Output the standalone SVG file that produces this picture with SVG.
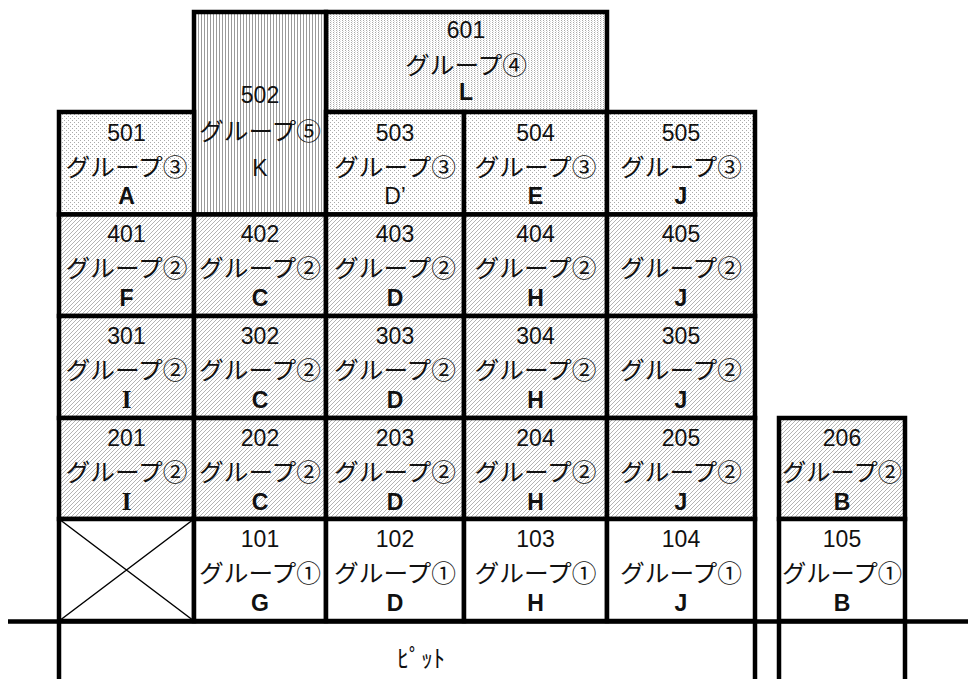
<svg xmlns="http://www.w3.org/2000/svg" width="968" height="679" viewBox="0 0 968 679">
<defs>
<pattern id="pDot" patternUnits="userSpaceOnUse" width="4" height="4">
<rect width="4" height="4" fill="#fff"/>
<rect x="0" y="0" width="1" height="1" fill="#aaa"/>
<rect x="2" y="2" width="1" height="1" fill="#aaa"/>
</pattern>
<pattern id="pVdot" patternUnits="userSpaceOnUse" width="3" height="2">
<rect width="3" height="2" fill="#fff"/>
<rect x="0" y="0" width="1" height="1" fill="#aaa"/>
<rect x="1" y="1" width="1" height="1" fill="#ddd"/>
</pattern>
<pattern id="pV" patternUnits="userSpaceOnUse" width="3" height="3">
<rect width="3" height="3" fill="#fff"/>
<rect x="0" y="0" width="1" height="3" fill="#9a9a9a"/>
</pattern>
<pattern id="pDiag" patternUnits="userSpaceOnUse" width="4" height="4">
<rect width="4" height="4" fill="#fff"/>
<path d="M-1,1 L1,-1 M0,4 L4,0 M3,5 L5,3" stroke="#b4b4b4" stroke-width="1"/>
</pattern>
</defs>
<style>
.c{stroke:#000;stroke-width:4.5}
.g3{fill:url(#pDot)}
.g4{fill:url(#pVdot)}
.g5{fill:url(#pV)}
.g2{fill:url(#pDiag)}
.g1{fill:#fff}
text{font-family:"Liberation Sans","Noto Sans CJK JP",sans-serif;font-size:23px;fill:#111;text-anchor:middle}
.k{font-family:"Noto Sans CJK JP","Liberation Sans",sans-serif;font-size:24px}
.b{font-weight:bold}
.s{font-family:"Liberation Serif",serif;font-weight:bold;font-size:25px}
.ln{stroke:#000;stroke-width:4.5;fill:none}
.thin{stroke:#000;stroke-width:1.5;fill:none}
</style>
<rect width="968" height="679" fill="#fff"/>

<g id="n601"><rect class="c g4" x="326" y="12" width="281" height="100"/>
<text x="466" y="38">601</text><text class="k" x="466" y="74" textLength="122" lengthAdjust="spacingAndGlyphs">グループ④</text><text class="b" x="466" y="100">L</text></g>

<g id="n502"><rect class="c g5" x="194" y="12" width="132" height="202.5"/>
<text x="260" y="103">502</text><text class="k" x="260" y="140" textLength="122" lengthAdjust="spacingAndGlyphs">グループ⑤</text><text x="260" y="176">K</text></g>

<g id="n501"><rect class="c g3" x="59" y="112" width="135" height="102.5"/>
<text x="126.5" y="141">501</text><text class="k" x="126.5" y="176" textLength="122" lengthAdjust="spacingAndGlyphs">グループ③</text><text class="b" x="126.5" y="204">A</text></g>
<g id="n503"><rect class="c g3" x="326" y="112" width="138" height="102.5"/>
<text x="395" y="141">503</text><text class="k" x="395" y="176" textLength="122" lengthAdjust="spacingAndGlyphs">グループ③</text><text x="395" y="204">D’</text></g>
<g id="n504"><rect class="c g3" x="464" y="112" width="143" height="102.5"/>
<text x="535.5" y="141">504</text><text class="k" x="535.5" y="176" textLength="122" lengthAdjust="spacingAndGlyphs">グループ③</text><text class="b" x="535.5" y="204">E</text></g>
<g id="n505"><rect class="c g3" x="607" y="112" width="148" height="102.5"/>
<text x="681" y="141">505</text><text class="k" x="681" y="176" textLength="122" lengthAdjust="spacingAndGlyphs">グループ③</text><text class="b" x="681" y="204">J</text></g>

<g id="n401"><rect class="c g2" x="59" y="214.5" width="135" height="101.5"/>
<text x="126.5" y="242">401</text><text class="k" x="126.5" y="277" textLength="122" lengthAdjust="spacingAndGlyphs">グループ②</text><text class="b" x="126.5" y="306">F</text></g>
<g id="n402"><rect class="c g2" x="194" y="214.5" width="132" height="101.5"/>
<text x="260" y="242">402</text><text class="k" x="260" y="277" textLength="122" lengthAdjust="spacingAndGlyphs">グループ②</text><text class="b" x="260" y="306">C</text></g>
<g id="n403"><rect class="c g2" x="326" y="214.5" width="138" height="101.5"/>
<text x="395" y="242">403</text><text class="k" x="395" y="277" textLength="122" lengthAdjust="spacingAndGlyphs">グループ②</text><text class="b" x="395" y="306">D</text></g>
<g id="n404"><rect class="c g2" x="464" y="214.5" width="143" height="101.5"/>
<text x="535.5" y="242">404</text><text class="k" x="535.5" y="277" textLength="122" lengthAdjust="spacingAndGlyphs">グループ②</text><text class="b" x="535.5" y="306">H</text></g>
<g id="n405"><rect class="c g2" x="607" y="214.5" width="148" height="101.5"/>
<text x="681" y="242">405</text><text class="k" x="681" y="277" textLength="122" lengthAdjust="spacingAndGlyphs">グループ②</text><text class="b" x="681" y="306">J</text></g>

<g id="n301"><rect class="c g2" x="59" y="316" width="135" height="102"/>
<text x="126.5" y="344">301</text><text class="k" x="126.5" y="379" textLength="122" lengthAdjust="spacingAndGlyphs">グループ②</text><text class="s" x="126.5" y="408">I</text></g>
<g id="n302"><rect class="c g2" x="194" y="316" width="132" height="102"/>
<text x="260" y="344">302</text><text class="k" x="260" y="379" textLength="122" lengthAdjust="spacingAndGlyphs">グループ②</text><text class="b" x="260" y="408">C</text></g>
<g id="n303"><rect class="c g2" x="326" y="316" width="138" height="102"/>
<text x="395" y="344">303</text><text class="k" x="395" y="379" textLength="122" lengthAdjust="spacingAndGlyphs">グループ②</text><text class="b" x="395" y="408">D</text></g>
<g id="n304"><rect class="c g2" x="464" y="316" width="143" height="102"/>
<text x="535.5" y="344">304</text><text class="k" x="535.5" y="379" textLength="122" lengthAdjust="spacingAndGlyphs">グループ②</text><text class="b" x="535.5" y="408">H</text></g>
<g id="n305"><rect class="c g2" x="607" y="316" width="148" height="102"/>
<text x="681" y="344">305</text><text class="k" x="681" y="379" textLength="122" lengthAdjust="spacingAndGlyphs">グループ②</text><text class="b" x="681" y="408">J</text></g>

<g id="n201"><rect class="c g2" x="59" y="418" width="135" height="101"/>
<text x="126.5" y="446">201</text><text class="k" x="126.5" y="481" textLength="122" lengthAdjust="spacingAndGlyphs">グループ②</text><text class="s" x="126.5" y="510">I</text></g>
<g id="n202"><rect class="c g2" x="194" y="418" width="132" height="101"/>
<text x="260" y="446">202</text><text class="k" x="260" y="481" textLength="122" lengthAdjust="spacingAndGlyphs">グループ②</text><text class="b" x="260" y="510">C</text></g>
<g id="n203"><rect class="c g2" x="326" y="418" width="138" height="101"/>
<text x="395" y="446">203</text><text class="k" x="395" y="481" textLength="122" lengthAdjust="spacingAndGlyphs">グループ②</text><text class="b" x="395" y="510">D</text></g>
<g id="n204"><rect class="c g2" x="464" y="418" width="143" height="101"/>
<text x="535.5" y="446">204</text><text class="k" x="535.5" y="481" textLength="122" lengthAdjust="spacingAndGlyphs">グループ②</text><text class="b" x="535.5" y="510">H</text></g>
<g id="n205"><rect class="c g2" x="607" y="418" width="148" height="101"/>
<text x="681" y="446">205</text><text class="k" x="681" y="481" textLength="122" lengthAdjust="spacingAndGlyphs">グループ②</text><text class="b" x="681" y="510">J</text></g>
<g id="n206"><rect class="c g2" x="779" y="418" width="126" height="101"/>
<text x="842" y="446">206</text><text class="k" x="842" y="481" textLength="120" lengthAdjust="spacingAndGlyphs">グループ②</text><text class="b" x="842" y="510">B</text></g>

<g id="nX"><rect class="c g1" x="59" y="519" width="135" height="102"/>
<path class="thin" d="M59,519 L194,621 M194,519 L59,621"/></g>
<g id="n101"><rect class="c g1" x="194" y="519" width="132" height="102"/>
<text x="260" y="547">101</text><text class="k" x="260" y="582" textLength="122" lengthAdjust="spacingAndGlyphs">グループ①</text><text class="b" x="260" y="611">G</text></g>
<g id="n102"><rect class="c g1" x="326" y="519" width="138" height="102"/>
<text x="395" y="547">102</text><text class="k" x="395" y="582" textLength="122" lengthAdjust="spacingAndGlyphs">グループ①</text><text class="b" x="395" y="611">D</text></g>
<g id="n103"><rect class="c g1" x="464" y="519" width="143" height="102"/>
<text x="535.5" y="547">103</text><text class="k" x="535.5" y="582" textLength="122" lengthAdjust="spacingAndGlyphs">グループ①</text><text class="b" x="535.5" y="611">H</text></g>
<g id="n104"><rect class="c g1" x="607" y="519" width="148" height="102"/>
<text x="681" y="547">104</text><text class="k" x="681" y="582" textLength="122" lengthAdjust="spacingAndGlyphs">グループ①</text><text class="b" x="681" y="611">J</text></g>
<g id="n105"><rect class="c g1" x="779" y="519" width="126" height="102"/>
<text x="842" y="547">105</text><text class="k" x="842" y="582" textLength="120" lengthAdjust="spacingAndGlyphs">グループ①</text><text class="b" x="842" y="611">B</text></g>

<g id="connectors">
<path class="ln" d="M8,621.5 H968 M59,621 V679 M755,621 V679 M779,621 V679 M905,621 V679"/>
</g>
<g id="pit"><text class="k" x="421" y="667">ﾋﾟｯﾄ</text></g>
</svg>
